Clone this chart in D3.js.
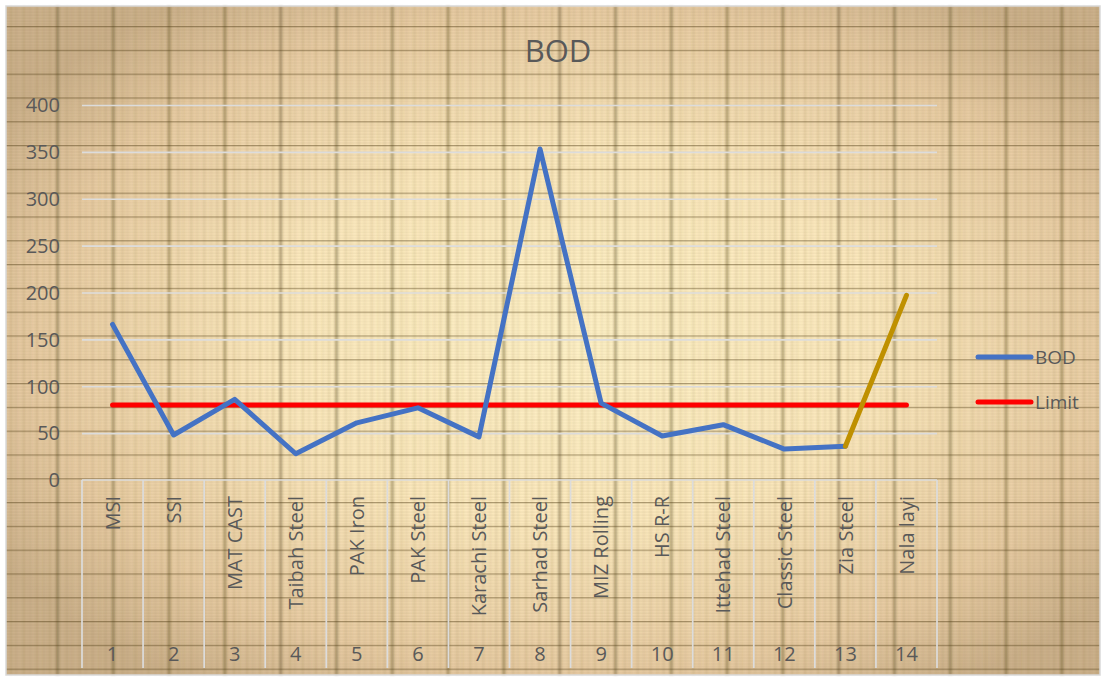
<!DOCTYPE html>
<html>
<head>
<meta charset="utf-8">
<script src="https://cdn.jsdelivr.net/npm/d3@7"></script>
<style>
  html, body { margin: 0; padding: 0; background: #ffffff; }
  svg { display: block; }
  text { font-family: "Open Sans", "Noto Sans", sans-serif; fill: #595959; }
</style>
</head>
<body>
<svg id="chart" width="1106" height="677"></svg>
<script>
// Plant names (inner axis level) and their serial numbers (outer axis level)
const categories = ["MSI", "SSI", "MAT CAST", "Taibah Steel", "PAK Iron", "PAK Steel",
  "Karachi Steel", "Sarhad Steel", "MIZ Rolling", "HS R-R", "Ittehad Steel",
  "Classic Steel", "Zia Steel", "Nala layi"];
const serials = ["1", "2", "3", "4", "5", "6", "7", "8", "9", "10", "11", "12", "13", "14"];

// BOD readings (mg/L) and the permissible limit
const bod = [166, 48, 86, 28, 61, 77, 46, 353, 82, 47, 59, 33, 36, 197];
const limit = [80, 80, 80, 80, 80, 80, 80, 80, 80, 80, 80, 80, 80, 80];

const yTicks = [0, 50, 100, 150, 200, 250, 300, 350, 400];

const W = 1106, H = 677;
const svg = d3.select("#chart");
const defs = svg.append("defs");

// ---- parchment style background ----
const rg = defs.append("radialGradient").attr("id", "paper")
  .attr("cx", "52%").attr("cy", "50%").attr("r", "62%");
rg.append("stop").attr("offset", "0%").attr("stop-color", "#fff2c8");
rg.append("stop").attr("offset", "45%").attr("stop-color", "#fce9be");
rg.append("stop").attr("offset", "80%").attr("stop-color", "#e8cca4");
rg.append("stop").attr("offset", "100%").attr("stop-color", "#ccb18c");

const blur = defs.append("filter").attr("id", "soft").attr("x", "-10%").attr("y", "-10%")
  .attr("width", "120%").attr("height", "120%");
blur.append("feGaussianBlur").attr("stdDeviation", 0.9);

// vertical weave
const vp = defs.append("pattern").attr("id", "vweave").attr("patternUnits", "userSpaceOnUse")
  .attr("x", 2).attr("y", 0).attr("width", 55.8).attr("height", 20);
vp.append("rect").attr("x", 54.2).attr("width", 3.2).attr("height", 20).attr("fill", "#5e5024").attr("opacity", 0.55);
vp.append("rect").attr("x", 0).attr("width", 1.4).attr("height", 20).attr("fill", "#5e5024").attr("opacity", 0.35);
[8, 13, 21, 27, 34, 41, 47].forEach((x, i) => {
  vp.append("rect").attr("x", x).attr("width", 1.8).attr("height", 20)
    .attr("fill", "#8a7440").attr("opacity", i % 2 ? 0.12 : 0.2);
});

// horizontal weave
const hp = defs.append("pattern").attr("id", "hweave").attr("patternUnits", "userSpaceOnUse")
  .attr("x", 0).attr("y", 2.2).attr("width", 20).attr("height", 23.8);
hp.append("rect").attr("y", 0).attr("width", 20).attr("height", 1.3).attr("fill", "#4d3a12").attr("opacity", 0.45);
[3.5, 6.5, 9.5, 12.5, 15.5, 18.5, 21.3].forEach(y => {
  hp.append("rect").attr("y", y).attr("width", 20).attr("height", 1)
    .attr("fill", "#7a6535").attr("opacity", 0.11);
});

svg.append("rect").attr("x", 6).attr("y", 6).attr("width", W - 12).attr("height", H - 8)
  .attr("fill", "url(#paper)");
svg.append("rect").attr("x", 6).attr("y", 6).attr("width", W - 12).attr("height", H - 8)
  .attr("fill", "url(#vweave)").attr("filter", "url(#soft)");
svg.append("rect").attr("x", 6).attr("y", 6).attr("width", W - 12).attr("height", H - 8)
  .attr("fill", "url(#hweave)");
svg.append("rect").attr("x", 6).attr("y", 6).attr("width", W - 12).attr("height", H - 8)
  .attr("fill", "none").attr("stroke", "#d9d9d9").attr("stroke-width", 1.5);

// ---- scales ----
const plot = { left: 82, right: 937, top: 105, bottom: 480 };
const x = d3.scaleBand().domain(categories).range([plot.left, plot.right]);
const y = d3.scaleLinear().domain([0, 400]).range([plot.bottom, plot.top]);
const cx = c => x(c) + x.bandwidth() / 2;

// ---- title ----
svg.append("text").attr("x", 558).attr("y", 62).attr("text-anchor", "middle")
  .style("font-size", "31px").text("BOD");

// ---- gridlines and value axis ----
const yAxis = d3.axisLeft(y).tickValues(yTicks).tickSize(-(plot.right - plot.left)).tickPadding(22);
const gy = svg.append("g").attr("transform", `translate(${plot.left},0)`).call(yAxis);
gy.select(".domain").remove();
gy.selectAll(".tick line").attr("stroke", "#dcdcdc").attr("stroke-width", 1.7);
gy.selectAll(".tick").filter(d => d === 0).select("line").remove();
gy.selectAll(".tick text").style("font-size", "20px").attr("fill", "#595959")
  .attr("dy", "0.34em").style("font-family", "'Open Sans', sans-serif");

// ---- multi-level category axis ----
const axisBottom = 668;
const gx = svg.append("g");
gx.append("line").attr("x1", plot.left).attr("x2", plot.right)
  .attr("y1", plot.bottom).attr("y2", plot.bottom)
  .attr("stroke", "#dcdcdc").attr("stroke-width", 1.7);
const bounds = categories.map(c => x(c)).concat([plot.right]);
gx.selectAll("line.sep").data(bounds).join("line").attr("class", "sep")
  .attr("x1", d => d).attr("x2", d => d)
  .attr("y1", plot.bottom).attr("y2", axisBottom)
  .attr("stroke", "#dcdcdc").attr("stroke-width", 1.7);
gx.selectAll("text.name").data(categories).join("text").attr("class", "name")
  .attr("transform", d => `translate(${cx(d)},496) rotate(-90)`)
  .attr("text-anchor", "end").attr("dy", "0.36em")
  .style("font-size", "20px").text(d => d);
gx.selectAll("text.num").data(serials).join("text").attr("class", "num")
  .attr("x", (d, i) => cx(categories[i])).attr("y", 654)
  .attr("text-anchor", "middle").attr("dy", "0.36em")
  .style("font-size", "20px").text(d => d);

// ---- series ----
const bodPts = categories.map((c, i) => ({ c, v: bod[i] }));
const limPts = categories.map((c, i) => ({ c, v: limit[i] }));
const line = d3.line().x(d => cx(d.c)).y(d => y(d.v));

svg.append("path").datum(limPts).attr("d", line)
  .attr("fill", "none").attr("stroke", "#ff0000").attr("stroke-width", 5)
  .attr("stroke-linecap", "round");
svg.append("path").datum(bodPts.slice(0, 13)).attr("d", line)
  .attr("fill", "none").attr("stroke", "#4472c4").attr("stroke-width", 5)
  .attr("stroke-linejoin", "round").attr("stroke-linecap", "round");
svg.append("path").datum(bodPts.slice(12)).attr("d", line)
  .attr("fill", "none").attr("stroke", "#bf9000").attr("stroke-width", 5)
  .attr("stroke-linejoin", "round").attr("stroke-linecap", "round");

// ---- legend ----
const legend = [{ name: "BOD", color: "#4472c4" }, { name: "Limit", color: "#ff0000" }];
const lg = svg.append("g").selectAll("g").data(legend).join("g")
  .attr("transform", (d, i) => `translate(978,${357 + i * 45})`);
lg.append("line").attr("x1", 0).attr("x2", 53).attr("stroke", d => d.color)
  .attr("stroke-width", 5).attr("stroke-linecap", "round");
lg.append("text").attr("x", 57).attr("dy", "0.36em").style("font-size", "19px").text(d => d.name);
</script>
</body>
</html>
